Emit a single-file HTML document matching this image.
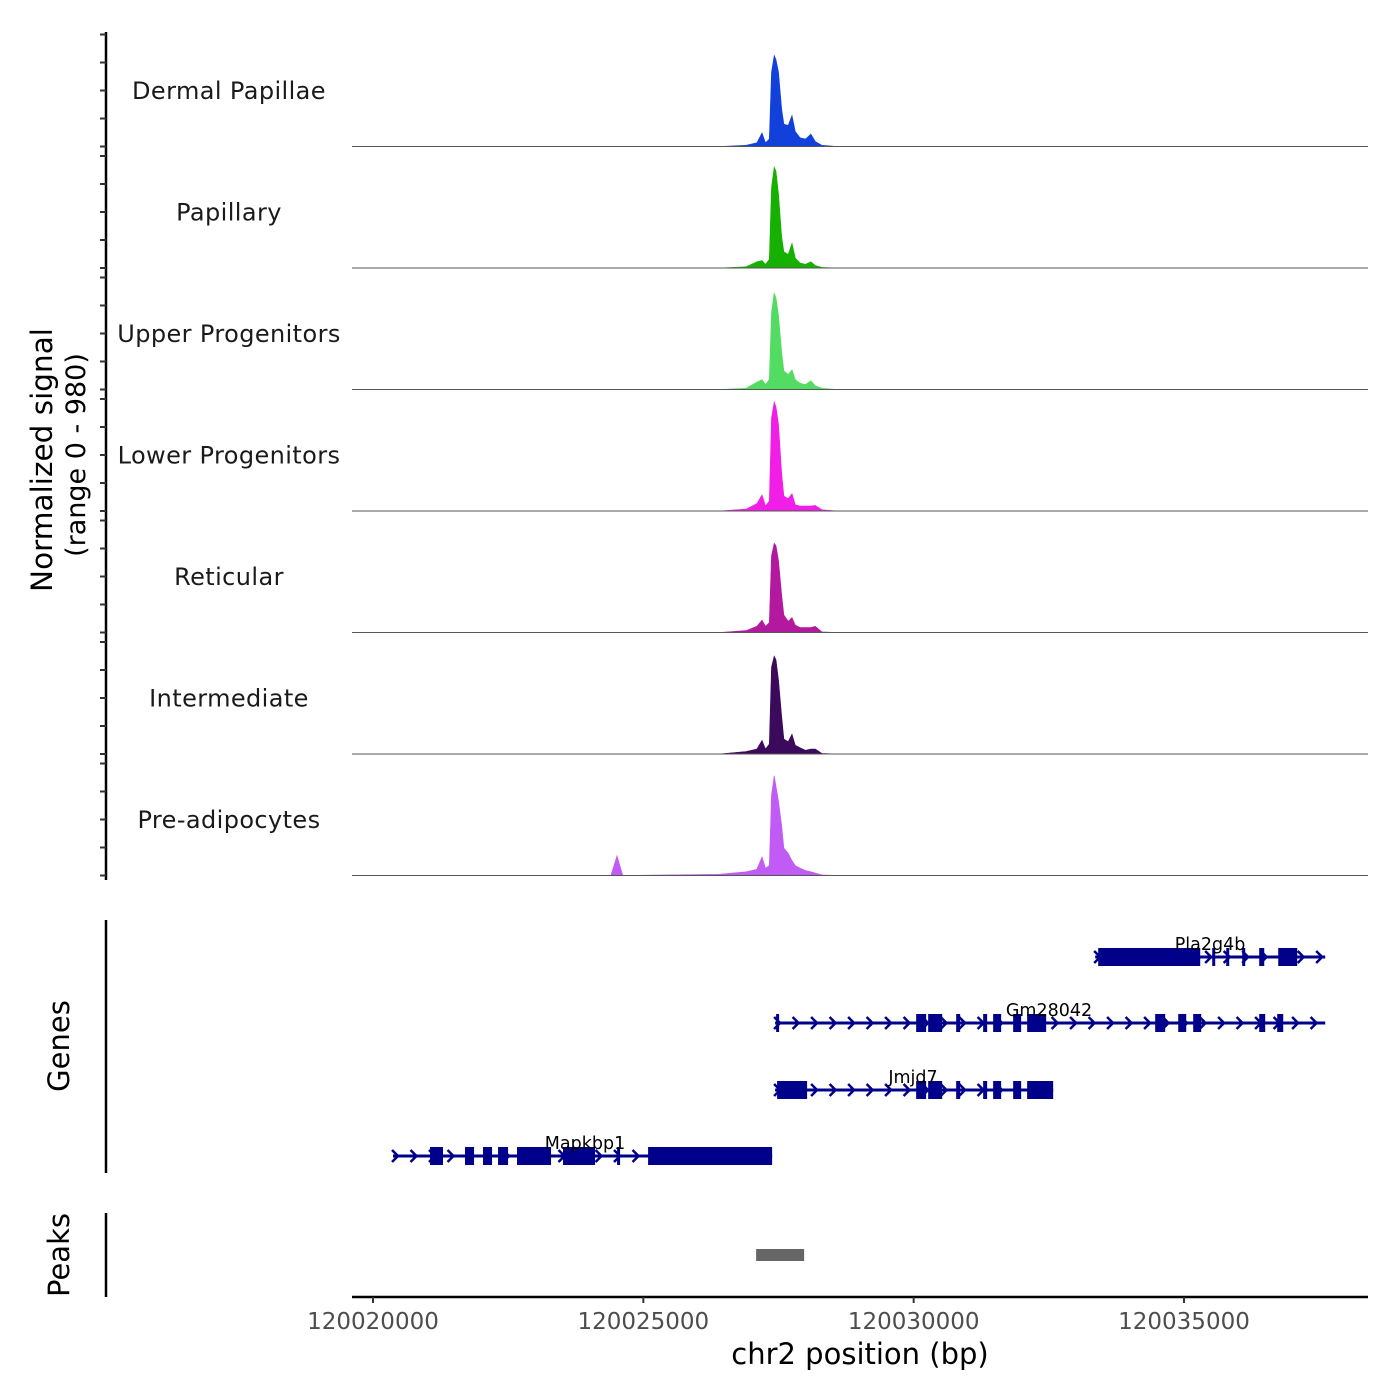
<!DOCTYPE html>
<html><head><meta charset="utf-8">
<style>
body{margin:0;background:#fff;}
svg{display:block;font-family:"DejaVu Sans","Liberation Sans",sans-serif;}
</style></head>
<body>
<svg id="chart" width="1400" height="1400" viewBox="0 0 1400 1400" xmlns="http://www.w3.org/2000/svg">
<g id="tracks"></g>
<g id="genes"></g>
<g id="peaks"></g>
<g id="axes"></g>
<text transform="translate(52,460) rotate(-90)" text-anchor="middle" font-size="29.5" fill="#000">Normalized signal</text>
<text transform="translate(85,455) rotate(-90)" text-anchor="middle" font-size="27" fill="#000">(range 0 - 980)</text>
<text transform="translate(69,1046) rotate(-90)" text-anchor="middle" font-size="29" fill="#000">Genes</text>
<text transform="translate(69,1255) rotate(-90)" text-anchor="middle" font-size="29" fill="#000">Peaks</text>
<text x="860" y="1364" text-anchor="middle" font-size="29" fill="#000">chr2 position (bp)</text>
</svg>
<script>
const BASE = 120020000;
const trackNames = ["Dermal Papillae","Papillary","Upper Progenitors","Lower Progenitors","Reticular","Intermediate","Pre-adipocytes"];
const trackColors = ["#1240db","#16b000","#52dc62","#f01ee6","#b2199f","#3b0a5c","#c05cf5"];
const positions = [4400,4470,4513,4560,4620,6400,6900,7100,7194,7260,7330,7370,7420,7453,7500,7560,7600,7680,7749,7810,7900,8000,8100,8180,8300,8600];
const dermal = [0,0,0,0,0,0,10,30,110,30,60,600,735,700,600,300,180,170,250,120,70,60,100,40,10,0];
const papillary = [0,0,0,0,0,0,10,50,60,30,70,650,815,780,600,250,130,110,200,80,40,30,50,20,5,0];
const upper = [0,0,0,0,0,0,10,60,80,40,80,620,780,740,600,300,150,120,160,80,50,40,70,30,10,0];
const lower = [0,0,0,0,0,0,15,60,130,40,80,750,880,840,700,300,120,100,140,50,40,40,40,45,10,0];
const reticular = [0,0,0,0,0,0,15,50,100,50,80,620,720,700,580,300,140,90,120,60,40,40,40,50,5,0];
const intermediate = [0,0,0,0,0,0,20,40,110,40,80,700,790,760,600,300,120,100,160,70,50,30,40,40,5,0];
const preadipocytes = [0,100,160,90,0,10,30,50,150,60,80,650,805,720,600,400,220,180,120,80,60,40,30,20,5,0];
const series = [dermal,papillary,upper,lower,reticular,intermediate,preadipocytes];
const yMax = 980;
const xTicks = [120020000,120025000,120030000,120035000];
const xTickLabels = ["120020000","120025000","120030000","120035000"];

const geneNames = ["Pla2g4b","Gm28042","Jmjd7","Mapkbp1"];
const geneStarts = [13357,7437,7437,370];
const geneEnds = [17612,17612,12580,7382];
const geneExons = [
 [[13413,15300],[15522,15559],[15781,15818],[16077,16132],[16391,16484],[16743,17094]],
 [[7456,7511],[10046,10231],[10268,10527],[10786,10860],[11285,11359],[11470,11618],[11840,11988],[12099,12451],[14467,14652],[14893,15041],[15170,15318],[16391,16502],[16724,16835]],
 [[7474,8029],[10046,10231],[10268,10527],[10786,10860],[11285,11359],[11470,11618],[11840,11988],[12099,12580]],
 [[1055,1295],[1702,1869],[2035,2202],[2313,2498],[2664,3293],[3515,4107],[4514,4570],[5088,7382]]
];
const peakStarts = [7086];
const peakEnds = [7974];

const NS = "http://www.w3.org/2000/svg";
const X0 = 352, X1 = 1368;
function xs(bp){ return 373 + (bp - BASE) * (1184 - 373) / 15000; }
const panelTop = 25, panelH = 121.5;
function ys(i, v){ const base = panelTop + (i+1)*panelH; return base - v/yMax*panelH; }
function mk(tag, attrs, parent){ const e=document.createElementNS(NS,tag); for(const k in attrs) e.setAttribute(k,attrs[k]); parent.appendChild(e); return e; }

const tracks = document.getElementById('tracks');
series.forEach((vals,i)=>{
  const g = mk('g',{},tracks);
  
  
  const base = ys(i,0);
  let d = 'M'+X0+','+base+' L'+xs(BASE+positions[0]).toFixed(1)+','+base;
  positions.forEach((p,j)=>{ d += ' L'+xs(BASE+p).toFixed(1)+','+ys(i,vals[j]).toFixed(1); });
  d += ' L'+X1+','+base+' Z';
  const a = mk('path',{d:d,fill:trackColors[i],stroke:trackColors[i],'stroke-width':'0.6'},g);
  
  
  const bl = mk('line',{x1:X0,x2:X1,y1:base,y2:base,stroke:'#555','stroke-width':'1'},g);
  
  
  const t = mk('text',{x:229,y:(base-panelH/2+13).toFixed(1),'text-anchor':'middle','font-size':'24','letter-spacing':'0.4',fill:'#1a1a1a'},g);
  t.textContent = trackNames[i];
  
  
});

const axes = document.getElementById('axes');
let al = mk('line',{x1:106,x2:106,y1:32,y2:880,stroke:'#000','stroke-width':'2.5'},axes);


for(let i=0;i<7;i++){
  const base = ys(i,0);
  for(let k=0;k<5;k++){
    const y = base - k*28;
    const tk = mk('line',{x1:100,x2:106,y1:y,y2:y,stroke:'#333','stroke-width':'2'},axes);
    
    
  }
}
let gl = mk('line',{x1:106,x2:106,y1:920,y2:1173,stroke:'#000','stroke-width':'2.5'},axes);


let pl = mk('line',{x1:106,x2:106,y1:1213,y2:1297,stroke:'#000','stroke-width':'2.5'},axes);


let xl = mk('line',{x1:X0,x2:X1,y1:1297,y2:1297,stroke:'#000','stroke-width':'2.5'},axes);


xTicks.forEach((t,i)=>{
  const x = xs(t);
  const tk = mk('line',{x1:x,x2:x,y1:1297,y2:1303,stroke:'#333','stroke-width':'2'},axes);
  
  
  const lb = mk('text',{x:x,y:1329,'text-anchor':'middle','font-size':'23',fill:'#4d4d4d'},axes);
  lb.textContent = xTickLabels[i];
  
  
});

const genes = document.getElementById('genes');
const rowY = [957,1023,1090,1156];
const labelX = [1210,1049,913,585];
geneNames.forEach((n,i)=>{
  const g = mk('g',{},genes);
  
  
  const y = rowY[i], x0 = xs(BASE+geneStarts[i]), x1 = xs(BASE+geneEnds[i]);
  mk('line',{x1:x0,x2:x1,y1:y,y2:y,stroke:'#00008b','stroke-width':'3'},g);
  for(let x=x0+2;x<x1;x+=18.5){
    mk('path',{d:'M'+(x-3)+','+(y-6)+' L'+(x+3)+','+y+' L'+(x-3)+','+(y+6),fill:'none',stroke:'#00008b','stroke-width':'2.5'},g);
  }
  geneExons[i].forEach(ex=>{
    const a = xs(BASE+ex[0]), b = xs(BASE+ex[1]);
    const r = mk('rect',{x:a,y:y-9,width:Math.max(b-a,3),height:18,fill:'#00008b'},g);
    
    
  });
  const t = mk('text',{x:labelX[i],y:y-7,'text-anchor':'middle','font-size':'17.5',fill:'#000'},g);
  t.textContent = n;
  
  
});

const peaks = document.getElementById('peaks');
peakStarts.forEach((s,i)=>{
  const a = xs(BASE+s), b = xs(BASE+peakEnds[i]);
  const r = mk('rect',{x:a,y:1249,width:b-a,height:12,fill:'#666'},peaks);
  
  
});
</script>
</body></html>
